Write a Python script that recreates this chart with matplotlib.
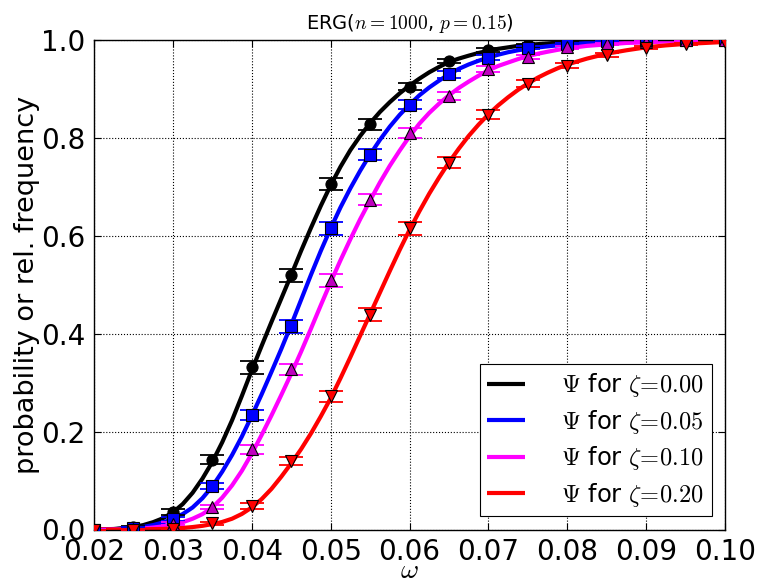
import matplotlib
matplotlib.use("Agg")
import matplotlib.pyplot as plt
import numpy as np

# ---- data: simulated relative frequencies (markers) ----
omega_pts = [0.020, 0.025, 0.030, 0.035, 0.040, 0.045, 0.050, 0.055, 0.060,
             0.065, 0.070, 0.075, 0.080, 0.085, 0.090, 0.095, 0.100]

freq_z000 = [0.000, 0.005, 0.036, 0.143, 0.331, 0.519, 0.706, 0.828, 0.905,
             0.957, 0.979, 0.989, 0.995, 0.998, 0.999, 1.000, 1.000]
freq_z005 = [0.000, 0.003, 0.022, 0.089, 0.234, 0.415, 0.615, 0.766, 0.868,
             0.930, 0.964, 0.984, 0.992, 0.997, 0.999, 1.000, 1.000]
freq_z010 = [0.000, 0.001, 0.012, 0.046, 0.164, 0.327, 0.509, 0.674, 0.810,
             0.886, 0.941, 0.966, 0.985, 0.992, 0.996, 0.999, 1.000]
freq_z020 = [0.000, 0.000, 0.002, 0.013, 0.048, 0.140, 0.272, 0.439, 0.615,
             0.749, 0.847, 0.911, 0.947, 0.970, 0.984, 0.992, 0.996]

err_z000 = [0.0005, 0.002, 0.006, 0.010, 0.013, 0.014, 0.013, 0.011, 0.008,
            0.005, 0.004, 0.003, 0.002, 0.001, 0.001, 0.0005, 0.0005]
err_z005 = [0.0003, 0.0015, 0.004, 0.007, 0.011, 0.013, 0.013, 0.011, 0.009,
            0.007, 0.005, 0.003, 0.002, 0.001, 0.001, 0.0005, 0.0003]
err_z010 = [0.0002, 0.001, 0.003, 0.005, 0.009, 0.012, 0.013, 0.012, 0.010,
            0.008, 0.006, 0.004, 0.003, 0.002, 0.001, 0.0007, 0.0003]
err_z020 = [0.0, 0.0002, 0.001, 0.003, 0.006, 0.009, 0.011, 0.013, 0.013,
            0.011, 0.009, 0.007, 0.005, 0.004, 0.003, 0.002, 0.001]

# ---- data: probability curves Psi ----
omega_curve = ([0.0200, 0.0225]
               + [round(v, 5) for v in np.linspace(0.025, 0.080, 45)]
               + [0.0825, 0.0850, 0.0875, 0.0900, 0.0925, 0.0950, 0.0975, 0.1000])

psi_z000 = ([0.000, 0.001]
            + [0.005, 0.009, 0.015, 0.023, 0.035, 0.052, 0.075, 0.104, 0.138, 0.178,
               0.223, 0.273, 0.325, 0.375, 0.424, 0.472, 0.520, 0.569, 0.616, 0.661,
               0.703, 0.741, 0.775, 0.804, 0.830, 0.853, 0.873, 0.891, 0.907, 0.921,
               0.934, 0.945, 0.955, 0.962, 0.968, 0.9735, 0.978, 0.982, 0.985, 0.988,
               0.990, 0.9915, 0.993, 0.9945, 0.996]
            + [0.997, 0.998, 0.999, 0.999, 1.000, 1.000, 1.000, 1.000])
psi_z005 = ([0.000, 0.0005]
            + [0.003, 0.0053, 0.009, 0.0144, 0.022, 0.0316, 0.045, 0.064, 0.088, 0.118,
               0.152, 0.190, 0.232, 0.276, 0.322, 0.369, 0.418, 0.469, 0.520, 0.569,
               0.615, 0.658, 0.697, 0.733, 0.766, 0.796, 0.823, 0.847, 0.868, 0.887,
               0.903, 0.917, 0.930, 0.941, 0.950, 0.9576, 0.964, 0.970, 0.975, 0.979,
               0.982, 0.9847, 0.987, 0.989, 0.991]
            + [0.994, 0.996, 0.997, 0.998, 0.999, 0.999, 1.000, 1.000])
psi_z010 = ([0.000, 0.0002]
            + [0.001, 0.0022, 0.004, 0.0064, 0.010, 0.0149, 0.022, 0.0314, 0.045, 0.065,
               0.090, 0.120, 0.155, 0.193, 0.233, 0.275, 0.318, 0.363, 0.410, 0.458,
               0.505, 0.550, 0.593, 0.634, 0.672, 0.709, 0.743, 0.774, 0.803, 0.829,
               0.851, 0.870, 0.887, 0.902, 0.915, 0.927, 0.938, 0.947, 0.954, 0.9609,
               0.967, 0.9719, 0.976, 0.9798, 0.983]
            + [0.988, 0.991, 0.994, 0.995, 0.997, 0.998, 0.999, 0.999])
psi_z020 = ([0.000, 0.000]
            + [0.0003, 0.0005, 0.0008, 0.0012, 0.002, 0.0032, 0.005, 0.0075, 0.011, 0.0154,
               0.022, 0.0318, 0.045, 0.062, 0.083, 0.108, 0.135, 0.164, 0.196, 0.231,
               0.268, 0.309, 0.352, 0.396, 0.440, 0.484, 0.528, 0.571, 0.612, 0.650,
               0.686, 0.719, 0.750, 0.778, 0.804, 0.827, 0.848, 0.8665, 0.883, 0.898,
               0.911, 0.923, 0.933, 0.942, 0.950]
            + [0.962, 0.972, 0.979, 0.985, 0.989, 0.992, 0.994, 0.996])

legend_labels = [r'$\Psi$ for $\zeta\!=\!0.00$', r'$\Psi$ for $\zeta\!=\!0.05$',
                 r'$\Psi$ for $\zeta\!=\!0.10$', r'$\Psi$ for $\zeta\!=\!0.20$']
x_ticks = [0.02, 0.03, 0.04, 0.05, 0.06, 0.07, 0.08, 0.09, 0.10]
y_ticks = [0.0, 0.2, 0.4, 0.6, 0.8, 1.0]

# ---- style ----
plt.rcParams['mathtext.fontset'] = 'cm'
plt.rcParams['font.family'] = ['DejaVu Sans']

fig = plt.figure(figsize=(7.58, 5.83), dpi=100, facecolor='white')
ax = fig.add_axes([94/758, 1 - 529.5/583, (725-94)/758, (529.5-40)/583])

line_colors = ['black', 'blue', 'magenta', 'red']
marker_colors = ['black', 'blue', (0.75, 0, 0.75), 'red']
markers = ['o', 's', '^', 'v']
curves = [psi_z000, psi_z005, psi_z010, psi_z020]
freqs = [freq_z000, freq_z005, freq_z010, freq_z020]
errs = [err_z000, err_z005, err_z010, err_z020]

handles = []
for c, lab, lc in zip(curves, legend_labels, line_colors):
    h, = ax.plot(omega_curve, c, color=lc, lw=3, label=lab, zorder=2,
                 solid_joinstyle='round', solid_capstyle='butt')
    handles.append(h)

for f, e, lc, mc, mk in zip(freqs, errs, line_colors, marker_colors, markers):
    ax.errorbar(omega_pts, f, yerr=e, fmt='none', ecolor=lc, elinewidth=1.3,
                capsize=8.5, capthick=1.3, zorder=3)
    ax.plot(omega_pts, f, linestyle='none', marker=mk, markersize=8,
            markerfacecolor=mc, markeredgecolor='black', markeredgewidth=0.8,
            zorder=4)

ax.set_xlim(0.02, 0.10)
ax.set_ylim(0.0, 1.0)
ax.set_xticks(x_ticks)
ax.set_yticks(y_ticks)
ax.set_xticklabels(['%.2f' % v for v in x_ticks])
ax.set_yticklabels(['%.1f' % v for v in y_ticks])
ax.tick_params(axis='both', direction='in', labelsize=20, length=5, width=0.8,
               top=True, right=True, pad=6)
ax.grid(True, color='black', linestyle=':', linewidth=0.8)
for s in ax.spines.values():
    s.set_linewidth(1.0)

ax.set_xlabel(r'$\omega$', fontsize=20, labelpad=-7)
ax.set_ylabel('probability or rel. frequency', fontsize=19.5, labelpad=1)
ax.set_title(r'ERG($n=1000$, $p=0.15$)', fontsize=14, pad=8)

leg = ax.legend(handles=handles, loc='lower right', fontsize=17.5,
                fancybox=False, framealpha=1, edgecolor='black',
                handlelength=1.55, borderaxespad=0.55, labelspacing=0.35,
                handletextpad=1.5, borderpad=0.3)
leg.get_frame().set_linewidth(0.8)

fig.savefig('out.png', dpi=100, facecolor='white')
